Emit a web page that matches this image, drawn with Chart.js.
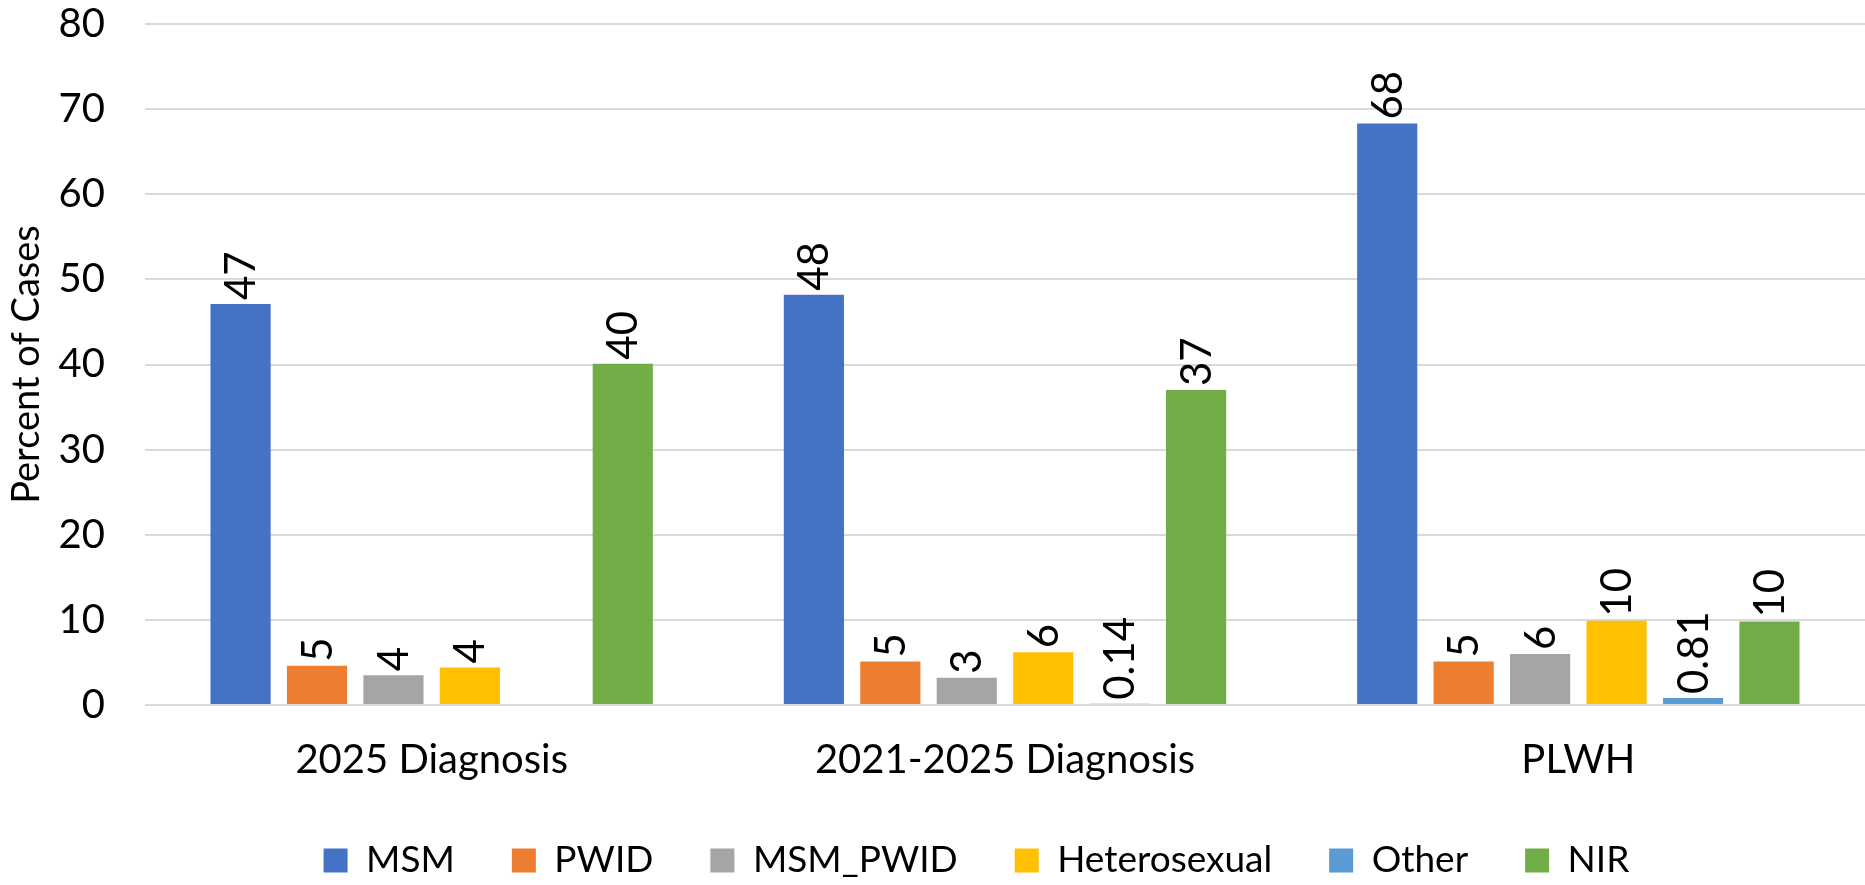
<!DOCTYPE html>
<html>
<head>
<meta charset="utf-8">
<script src="https://cdn.jsdelivr.net/npm/chart.js@4"></script>
<style>
  body { margin: 0; background: #fff; }
  #wrap { width: 1865px; height: 885px; position: relative; }
</style>
</head>
<body>
<div id="wrap"><canvas id="myChart"></canvas></div>
<script>
// categorias y valores (porcentaje de casos)
const categories = ['2025 Diagnosis', '2021-2025 Diagnosis', 'PLWH'];
const msm = [47.1, 48.2, 68.3];
const pwid = [4.6, 5.1, 5.1];
const msmPwid = [3.5, 3.2, 6.0];
const hetero = [4.4, 6.2, 9.9];
const other = [null, 0.14, 0.81];
const nir = [40.1, 37.0, 9.8];
const yTicks = [0, 10, 20, 30, 40, 50, 60, 70, 80];

const FONT = 'Lato, "Open Sans", sans-serif';
const LEGEND_GAP = 57;

function fmt(v) {
  return v < 1 ? v.toFixed(2) : String(Math.round(v));
}

// etiquetas verticales encima de cada barra
const barLabels = {
  id: 'barLabels',
  afterDatasetsDraw(chart) {
    const ctx = chart.ctx;
    ctx.save();
    ctx.font = '42px ' + FONT;
    ctx.fillStyle = '#000';
    ctx.textAlign = 'left';
    ctx.textBaseline = 'middle';
    chart.data.datasets.forEach((ds, i) => {
      const meta = chart.getDatasetMeta(i);
      meta.data.forEach((bar, j) => {
        const v = ds.data[j];
        if (v === null || v === undefined) return;
        ctx.save();
        ctx.translate(bar.x + 1, bar.y - 4);
        ctx.rotate(-Math.PI / 2);
        ctx.fillText(fmt(v), 0, 0);
        ctx.restore();
      });
    });
    ctx.restore();
  }
};

// leyenda centrada bajo la zona visible del grafico y etiquetas del eje x sin recortar
const layoutFix = {
  id: 'layoutFix',
  afterLayout(chart) {
    const lg = chart.legend;
    const area = chart.chartArea;
    const w = lg.right - lg.left;
    const target = (area.left + chart.width) / 2 - LEGEND_GAP / 2;
    const shift = target - (lg.left + lg.right) / 2;
    lg.left += shift;
    lg.right = lg.left + w;
    chart.scales.x.bottom = chart.height;
  }
};

const data = {
  labels: categories,
  datasets: [
    { label: 'MSM', data: msm, backgroundColor: '#4472C4' },
    { label: 'PWID', data: pwid, backgroundColor: '#ED7D31' },
    { label: 'MSM_PWID', data: msmPwid, backgroundColor: '#A5A5A5' },
    { label: 'Heterosexual', data: hetero, backgroundColor: '#FFC000' },
    { label: 'Other', data: other, backgroundColor: '#5B9BD5' },
    { label: 'NIR', data: nir, backgroundColor: '#70AD47' },
  ],
};

const config = {
  type: 'bar',
  data: data,
  options: {
    responsive: true,
    maintainAspectRatio: false,
    animation: false,
    categoryPercentage: 0.8,
    barPercentage: 0.787,
    layout: { padding: { top: 24, right: -19, left: 0, bottom: -4 } },
    plugins: {
      tooltip: { enabled: false },
      legend: {
        position: 'bottom',
        labels: {
          font: { family: FONT, size: 37 },
          color: '#000',
          boxWidth: 24,
          boxHeight: 24,
          padding: LEGEND_GAP,
        },
      },
    },
    scales: {
      x: {
        grid: { display: false, drawTicks: false },
        border: { display: false },
        ticks: { font: { family: FONT, size: 40 }, color: '#000', padding: 31 },
        afterFit(scale) {
          scale.height = 80;
        },
      },
      y: {
        min: 0,
        max: 80,
        afterBuildTicks(scale) {
          scale.ticks = yTicks.map(v => ({ value: v }));
        },
        afterFit(scale) {
          scale.width = 145;
          scale.paddingTop = 0;
          scale.paddingBottom = 0;
        },
        grid: { color: '#D9D9D9', lineWidth: 2, drawTicks: false },
        border: { display: false },
        ticks: { font: { family: FONT, size: 40 }, color: '#000', padding: 40 },
        title: {
          display: true,
          text: 'Percent of Cases',
          font: { family: FONT, size: 38 },
          color: '#000',
          padding: { top: 4, bottom: 0 },
        },
      },
    },
  },
  plugins: [barLabels, layoutFix],
};

const myChart = new Chart(document.getElementById('myChart'), config);
</script>
</body>
</html>
